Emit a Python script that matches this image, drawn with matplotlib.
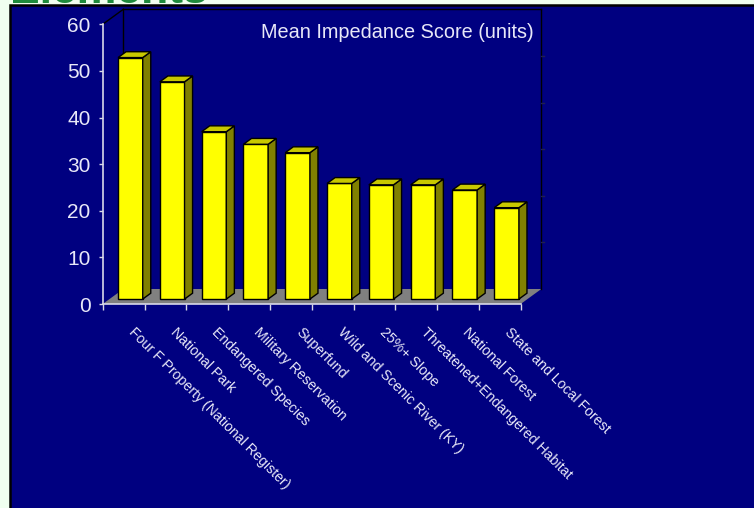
import matplotlib
matplotlib.use("Agg")
import matplotlib.pyplot as plt
from matplotlib.patches import Polygon, Rectangle
import matplotlib.transforms as mtransforms

categories = ["Four F Property (National Register)", "National Park", "Endangered Species",
              "Military Reservation", "Superfund", "Wild and Scenic River (KY)", "25%+ Slope",
              "Threatened+Endangered Habitat", "National Forest", "State and Local Forest"]
values = [51.8, 46.6, 35.9, 33.2, 31.4, 24.8, 24.5, 24.5, 23.4, 19.6]
yticks = [0, 10, 20, 30, 40, 50, 60]
value_title = "Mean Impedance Score (units)"
page_title = "Elements"

W, H = 754, 508
fig = plt.figure(figsize=(W / 100, H / 100), dpi=100)
fig.patch.set_facecolor("#f0fff0")
plt.rcParams["font.family"] = ["Liberation Sans", "DejaVu Sans"]

txtc = "#e8e8f8"

# page title (mostly cut off at the top)
fig.text(10 / W, 1 - 3.0 / H, page_title, color="#1e8a3c", fontsize=32, fontweight="bold",
         ha="left", va="baseline", zorder=-2)
# navy panel
fig.add_artist(Rectangle((9.5 / W, -0.05), 1.2, 1 - 4.5 / H + 0.05, transform=fig.transFigure,
                         facecolor="#000080", edgecolor="black", lw=1.8, zorder=-1))

x0, x1, ytop, ybot = 102.7, 520.7, 24.3, 304.0
ax = fig.add_axes([x0 / W, (H - ybot) / H, (x1 - x0) / W, (ybot - ytop) / H])
ax.set_facecolor("none")
n = len(values)
ax.set_xlim(0, n)
ax.set_ylim(0, 60)

px_x = (x1 - x0) / n
px_y = (ybot - ytop) / 60
DX = 20.6 / px_x
DY = 15.0 / px_y

# floor
ax.add_patch(Polygon([(0, 0), (n, 0), (n + DX, DY), (DX, DY)], closed=True,
                     facecolor="#808080", edgecolor="none", clip_on=False, zorder=1))
# back wall outline
wall = dict(color="black", lw=1.0, clip_on=False, zorder=1.5)
ax.plot([DX, DX], [DY, 60 + DY], **wall)
ax.plot([DX, n + DX], [60 + DY, 60 + DY], **wall)
ax.plot([n + DX, n + DX], [DY, 60 + DY], **wall)
ax.plot([0, DX], [60, 60 + DY], **wall)
for t in yticks[1:-1]:
    ax.plot([n + DX, n + DX + 0.06], [t + DY, t + DY], color="#202050", lw=1.0,
            clip_on=False, zorder=1.5)

# bars
f0, f1 = 0.33, 0.72
bw = 0.59
dX = (f1 - f0) * DX
dY = (f1 - f0) * DY
base = f0 * DY
for i, v in enumerate(values):
    xc = i + 0.5 + f0 * DX
    xl, xr = xc - bw / 2, xc + bw / 2
    ax.bar(xc, v, width=bw, bottom=base, color="#ffff00", edgecolor="black", lw=1.0,
           zorder=3 + i * 0.01, clip_on=False)
    ax.add_patch(Polygon([(xr, base), (xr + dX, base + dY), (xr + dX, base + v + dY),
                          (xr, base + v)], closed=True, facecolor="#808000",
                         edgecolor="black", lw=1.0, clip_on=False, zorder=3 + i * 0.01))
    ax.add_patch(Polygon([(xl, base + v), (xr, base + v), (xr + dX, base + v + dY),
                          (xl + dX, base + v + dY)], closed=True, facecolor="#c8c800",
                         edgecolor="black", lw=1.0, clip_on=False, zorder=3 + i * 0.01))

# axes styling
for s in ["top", "right"]:
    ax.spines[s].set_visible(False)
for s in ["left", "bottom"]:
    ax.spines[s].set_color("#d8d8e8")
    ax.spines[s].set_linewidth(1.2)
    ax.spines[s].set_zorder(4)
ax.set_yticks(yticks)
ax.set_yticklabels([str(t) for t in yticks])
ax.set_xticks(range(n + 1))
ax.set_xticklabels([])
ax.tick_params(axis="y", direction="out", length=3.2, width=1.0, color="#d8d8e8",
               labelcolor=txtc, labelsize=15, pad=5.5)
ax.tick_params(axis="x", direction="out", length=4, width=1.0, color="#d8d8e8")

# category labels
off = mtransforms.ScaledTranslation(12 / 100, -21 / 100, fig.dpi_scale_trans)
for i, c in enumerate(categories):
    ax.text(i + 0.5, 0, c, transform=ax.transData + off, rotation=-45,
            rotation_mode="anchor", ha="left", va="top", color=txtc, fontsize=10.2,
            clip_on=False)

fig.text(534 / W, 1 - 32 / H, value_title, color=txtc, fontsize=14.3, ha="right", va="center")

fig.savefig("out.png", dpi=100, facecolor=fig.get_facecolor())
